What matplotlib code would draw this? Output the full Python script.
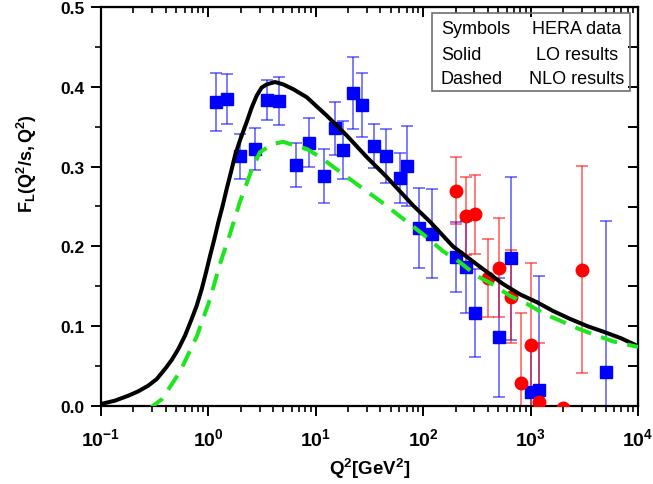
import numpy as np
import matplotlib.pyplot as plt
from matplotlib.ticker import LogLocator, FixedLocator, FixedFormatter, NullFormatter, MultipleLocator

plt.rcParams['font.family'] = ['Liberation Sans', 'DejaVu Sans']
plt.rcParams['mathtext.fontset'] = 'custom'
plt.rcParams['mathtext.rm'] = 'Liberation Sans'
plt.rcParams['mathtext.bf'] = 'Liberation Sans:bold'
plt.rcParams['mathtext.it'] = 'Liberation Sans:italic'

# HERA data, blue squares
hera_q2 = [1.18, 1.49, 1.97, 2.72, 3.52, 4.54, 6.55, 8.65, 11.9, 15.1, 17.9, 22.2, 26.9,
           34.8, 45.1, 60.8, 70.6, 91.2, 120, 202, 251, 302, 508, 656, 1000, 1200, 5010]
hera_fl = [0.381, 0.385, 0.313, 0.322, 0.383, 0.382, 0.302, 0.330, 0.288, 0.348, 0.321, 0.392, 0.377,
           0.326, 0.313, 0.286, 0.301, 0.223, 0.216, 0.187, 0.174, 0.117, 0.086, 0.185, 0.018, 0.020, 0.042]
hera_err = [0.036, 0.031, 0.028, 0.026, 0.025, 0.030, 0.028, 0.031, 0.034, 0.033, 0.036, 0.045, 0.040,
            0.028, 0.034, 0.031, 0.050, 0.050, 0.056, 0.044, 0.058, 0.055, 0.075, 0.102, 0.060, 0.143, 0.190]

# HERA data, red circles
hera2_q2 = [202, 252, 302, 398, 508, 656, 813, 1000, 1210, 2000, 3000]
hera2_fl = [0.270, 0.238, 0.240, 0.160, 0.173, 0.137, 0.029, 0.076, 0.005, -0.002, 0.171]
hera2_err = [0.042, 0.049, 0.049, 0.049, 0.062, 0.058, 0.087, 0.103, 0.074, 0.0, 0.130]

# LO result (solid), read in log10(Q2)
lo_logq = [-1.0, -0.870, -0.746, -0.653, -0.560, -0.481, -0.404, -0.342, -0.280, -0.218,
           -0.156, -0.109, -0.062, -0.022, 0.015, 0.055, 0.092, 0.133, 0.170, 0.210, 0.248,
           0.294, 0.357, 0.403, 0.450, 0.496, 0.543, 0.620, 0.697, 0.790, 0.915, 1.101, 1.288,
           1.474, 1.660, 1.908, 2.063, 2.277, 2.435, 2.593, 2.742, 2.9, 3.06, 3.21, 3.37, 3.53,
           3.68, 3.84, 4.0]
lo_fl = [0.0025, 0.0067, 0.0129, 0.0184, 0.0255, 0.0338, 0.0464, 0.0576, 0.0714, 0.0881,
         0.109, 0.1257, 0.1466, 0.1675, 0.188, 0.209, 0.230, 0.251, 0.272, 0.293, 0.314,
         0.333, 0.356, 0.374, 0.389, 0.399, 0.403, 0.406, 0.403, 0.397, 0.387, 0.364, 0.339,
         0.312, 0.287, 0.251, 0.231, 0.2, 0.184, 0.168, 0.153, 0.14, 0.13, 0.119, 0.109, 0.1,
         0.093, 0.085, 0.075]

# NLO result (dashed)
nlo_logq = [-0.55, -0.516, -0.43, -0.264, -0.106, 0.015, 0.108, 0.2, 0.294, 0.406, 0.48, 0.592,
            0.695, 0.918, 1.04, 1.29, 1.598, 1.877, 2.0, 2.184, 2.343, 2.5, 2.64, 2.808, 2.966,
            3.134, 3.274, 3.46, 3.581, 3.767, 4.0]
nlo_fl = [-0.004, 0.0, 0.009, 0.043, 0.088, 0.134, 0.178, 0.215, 0.256, 0.297, 0.318, 0.328,
          0.331, 0.322, 0.312, 0.287, 0.257, 0.228, 0.215, 0.194, 0.18, 0.163, 0.153, 0.138, 0.128,
          0.115, 0.107, 0.096, 0.09, 0.081, 0.074]

xticks = [1e-1, 1e0, 1e1, 1e2, 1e3, 1e4]
xtick_labels = [r'$\mathbf{10^{-1}}$', r'$\mathbf{10^{0}}$', r'$\mathbf{10^{1}}$',
                r'$\mathbf{10^{2}}$', r'$\mathbf{10^{3}}$', r'$\mathbf{10^{4}}$']
yticks = [0.0, 0.1, 0.2, 0.3, 0.4, 0.5]
ytick_labels = ['0.0', '0.1', '0.2', '0.3', '0.4', '0.5']

fig = plt.figure(figsize=(6.53, 4.85), dpi=100)
ax = fig.add_axes([101/653, 78/485, 537/653, 399/485])

ax.errorbar(hera_q2, hera_fl, yerr=hera_err, fmt='none', ecolor='#0000ff', alpha=0.6,
            elinewidth=1.2, capsize=4, capthick=1.2, zorder=2)
ax.errorbar(hera2_q2, hera2_fl, yerr=hera2_err, fmt='none', ecolor='#ff0000', alpha=0.6,
            elinewidth=1.2, capsize=4, capthick=1.2, zorder=2)
ax.plot(hera_q2, hera_fl, 's', color='#0000ff', ms=8, mec='#0000ff', zorder=3)
ax.plot(hera2_q2, hera2_fl, 'o', color='#ff0000', ms=9, mec='#ff0000', zorder=3)

ax.plot(10**np.array(lo_logq), lo_fl, '-', color='black', lw=2.9, zorder=4)
ax.plot(10**np.array(nlo_logq), nlo_fl, '--', color='#1ee61e', lw=2.9, dashes=(4.2, 2.6), zorder=4)

ax.set_xscale('log')
ax.set_xlim(1e-1, 1e4)
ax.set_ylim(0.0, 0.5)

ax.xaxis.set_major_locator(FixedLocator(xticks))
ax.xaxis.set_major_formatter(FixedFormatter(xtick_labels))
ax.xaxis.set_minor_locator(LogLocator(base=10, subs=np.arange(2, 10)))
ax.xaxis.set_minor_formatter(NullFormatter())
ax.yaxis.set_minor_locator(MultipleLocator(0.05))
ax.set_yticks(yticks)
ax.set_yticklabels(ytick_labels, fontweight='bold')

for s in ax.spines.values():
    s.set_linewidth(1.6)
ax.tick_params(which='major', direction='out', length=7, width=1.4, labelsize=12.5, pad=5)
ax.tick_params(which='minor', direction='out', length=4, width=1.2)
ax.tick_params(axis='x', which='major', labelsize=14, pad=8)

# top / right ticks point inwards
axt = ax.secondary_xaxis('top')
axt.xaxis.set_major_locator(FixedLocator(xticks))
axt.xaxis.set_minor_locator(LogLocator(base=10, subs=np.arange(2, 10)))
axt.xaxis.set_major_formatter(NullFormatter())
axt.xaxis.set_minor_formatter(NullFormatter())
axt.tick_params(which='major', direction='in', length=7, width=1.4)
axt.tick_params(which='minor', direction='in', length=4, width=1.2)
axr = ax.secondary_yaxis('right')
axr.yaxis.set_major_locator(MultipleLocator(0.05))
axr.yaxis.set_major_formatter(NullFormatter())
axr.tick_params(which='major', direction='in', length=7, width=1.4)
axr.tick_params(which='minor', length=0)

ax.set_xlabel(r'$\mathbf{Q^2[GeV^2]}$', fontsize=13.5)
ax.xaxis.set_label_coords(0.5, -0.125)
ax.set_ylabel(r'$\mathbf{F_L(Q^2/s,Q^2)}$', fontsize=13)
ax.yaxis.set_label_coords(-0.116, 0.61)

# note box
box = plt.Rectangle((432/653, (485-92)/485), 198/653, 78/485, transform=fig.transFigure,
                    fill=False, edgecolor='#707070', lw=1.2, zorder=5)
fig.patches.append(box)
rows = [('Symbols', 'HERA data'), ('Solid', 'LO results'), ('Dashed', 'NLO results')]
row_y = [30, 56, 80]
for (left, right), yy in zip(rows, row_y):
    fig.text(441/653, 1 - yy/485, left, fontsize=13, va='center', ha='left')
    fig.text(577/653, 1 - yy/485, right, fontsize=13, va='center', ha='center')

fig.savefig('out.png', dpi=100)
